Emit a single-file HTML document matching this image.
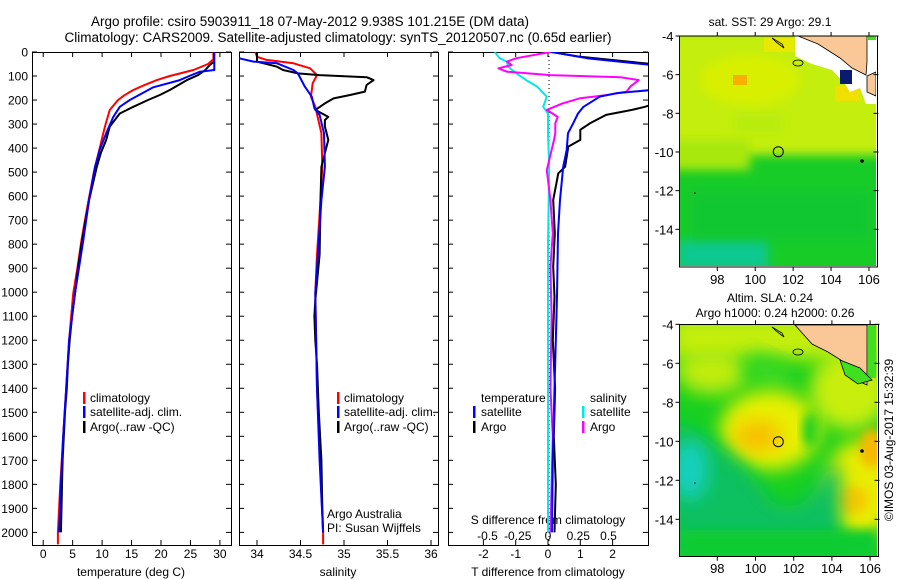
<!DOCTYPE html>
<html><head><meta charset="utf-8">
<style>
html,body{margin:0;padding:0;background:#fff;}
svg{display:block;font-family:"Liberation Sans",sans-serif;}
text{fill:#000;}
</style></head>
<body>
<svg id="s" width="900" height="580" viewBox="0 0 900 580" xmlns="http://www.w3.org/2000/svg">
<defs>
<clipPath id="c1"><rect x="32" y="52" width="199" height="493"/></clipPath>
<clipPath id="c2"><rect x="239" y="52" width="199" height="493"/></clipPath>
<clipPath id="c3"><rect x="448" y="52" width="200" height="493"/></clipPath>
<clipPath id="cm1"><rect x="680" y="36" width="196" height="230"/></clipPath>
<clipPath id="cm2"><rect x="680" y="325" width="197" height="231"/></clipPath>
<filter id="bl" x="-30%" y="-30%" width="160%" height="160%"><feGaussianBlur stdDeviation="9"/></filter>
<filter id="bl2" x="-30%" y="-30%" width="160%" height="160%"><feGaussianBlur stdDeviation="5"/></filter>
</defs>
<text x="310" y="26" font-size="13.5" text-anchor="middle">Argo profile: csiro 5903911_18 07-May-2012 9.938S 101.215E (DM data)</text>
<text x="338" y="42" font-size="13.5" text-anchor="middle">Climatology: CARS2009. Satellite-adjusted climatology: synTS_20120507.nc (0.65d earlier)</text>
<g id="g1"></g>
<g id="g2"></g>
<g id="g3"></g>

<!-- top map -->
<g>
<g clip-path="url(#cm1)">
<rect x="680" y="36" width="196" height="230" fill="#18cc28"/>
<rect x="670" y="30" width="220" height="125" fill="#c4ee08" filter="url(#bl2)"/>
<rect x="670" y="140" width="80" height="30" fill="#a8e810" filter="url(#bl2)"/>
<ellipse cx="750" cy="80" rx="50" ry="25" fill="#d8f000" filter="url(#bl2)"/>
<rect x="735" y="114" width="48" height="20" fill="#b8ec10" filter="url(#bl2)"/>
<rect x="678" y="240" width="90" height="30" fill="#10c890" filter="url(#bl2)"/>
<rect x="690" y="190" width="180" height="50" fill="#10c438" opacity="0.6" filter="url(#bl2)"/>
<rect x="733" y="75" width="14" height="10" fill="#f8b000"/>
<rect x="764" y="38" width="30" height="14" fill="#e8e800"/>
<rect x="835" y="86" width="25" height="15" fill="#f0e000"/>
<path d="M795 36 L876 36 L876 104 L866 104 L860 88 L850 92 L845 84 L832 70 L812 64 L795 56 Z" fill="#fff"/>
<path d="M798 36 L867 36 L867 62 L866 75 L852 68 L840 58 L818 44 Z" fill="#f9c896" stroke="#000" stroke-width="0.8"/>
<path d="M867 76 L876 72 L876 96 L867 92 Z" fill="#f9c896" stroke="#000" stroke-width="0.8"/>
<rect x="840" y="70" width="12" height="14" fill="#0a1a6e"/>
<rect x="868" y="36" width="8" height="4" fill="#40e020"/>
<path d="M772 38 L782 44 L784 48 L776 42 Z" fill="none" stroke="#000" stroke-width="0.8"/>
<ellipse cx="798" cy="63" rx="5" ry="3" fill="none" stroke="#000" stroke-width="0.8"/>
<circle cx="862" cy="161" r="1.8" fill="#000"/>
<circle cx="695" cy="193" r="0.8" fill="#000"/>
</g>
<rect x="679.5" y="36" width="198" height="231" fill="none" stroke="#000" stroke-width="1"/>
<circle cx="778.3" cy="151.7" r="5" fill="none" stroke="#000" stroke-width="1"/>
<g id="m1ticks"></g>
<text x="770" y="26" font-size="12" text-anchor="middle">sat. SST: 29 Argo: 29.1</text>
</g>

<!-- bottom map -->
<g>
<g clip-path="url(#cm2)">
<rect x="680" y="325" width="197" height="231" fill="#18d020"/>
<rect x="670" y="315" width="220" height="45" fill="#c4ee08" filter="url(#bl)"/>
<ellipse cx="850" cy="390" rx="40" ry="40" fill="#c8ee08" filter="url(#bl)"/>
<ellipse cx="712" cy="372" rx="36" ry="22" fill="#c0ec10" filter="url(#bl)"/>
<ellipse cx="768" cy="372" rx="28" ry="16" fill="#38d820" filter="url(#bl)" transform="rotate(25 768 372)"/>
<ellipse cx="770" cy="430" rx="50" ry="40" fill="#e8f000" filter="url(#bl)"/>
<ellipse cx="758" cy="436" rx="24" ry="16" fill="#f8c000" filter="url(#bl)"/>
<ellipse cx="860" cy="490" rx="36" ry="50" fill="#e8ec00" filter="url(#bl)"/>
<ellipse cx="872" cy="448" rx="12" ry="20" fill="#f8b800" filter="url(#bl2)"/>
<ellipse cx="852" cy="500" rx="16" ry="14" fill="#f8c800" filter="url(#bl2)"/>
<ellipse cx="810" cy="430" rx="8" ry="18" fill="#28d020" filter="url(#bl2)"/>
<path d="M670 420 Q740 450 770 500 Q800 520 820 480 Q830 460 840 470 L840 560 L670 560 Z" fill="#10c060" filter="url(#bl)"/>
<ellipse cx="690" cy="470" rx="18" ry="30" fill="#18d0c0" filter="url(#bl)"/>
<rect x="680" y="530" width="197" height="30" fill="#10cc30" filter="url(#bl2)"/>
<path d="M795 325 L867 325 L867 385 L856 380 L844 362 L828 352 L812 344 Z" fill="#f9c896" stroke="#000" stroke-width="0.8"/>
<path d="M868 325 L876 325 L876 378 L868 378 Z" fill="#40e020"/>
<path d="M840 360 L860 368 L872 380 L858 384 L845 375 Z" fill="#40e020" stroke="#000" stroke-width="0.8"/>
<path d="M772 327 L782 333 L784 337 L776 331 Z" fill="none" stroke="#000" stroke-width="0.8"/>
<ellipse cx="798" cy="352" rx="5" ry="3" fill="none" stroke="#000" stroke-width="0.8"/>
<circle cx="862" cy="451" r="1.8" fill="#000"/>
<circle cx="695" cy="483" r="0.8" fill="#000"/>
</g>
<rect x="679.5" y="324.5" width="199" height="232" fill="none" stroke="#000" stroke-width="1"/>
<circle cx="778.3" cy="441.7" r="5" fill="none" stroke="#000" stroke-width="1"/>
<g id="m2ticks"></g>
<text x="770" y="302" font-size="12" text-anchor="middle">Altim. SLA: 0.24</text>
<text x="775" y="317" font-size="12" text-anchor="middle">Argo h1000: 0.24 h2000: 0.26</text>
</g>
<text transform="translate(893 440) rotate(-90)" font-size="12" text-anchor="middle">©IMOS 03-Aug-2017 15:32:39</text>
</svg>
<script>
// ---- data ----
const depthTicks=[0,100,200,300,400,500,600,700,800,900,1000,1100,1200,1300,1400,1500,1600,1700,1800,1900,2000];
const tempTicks=[0,5,10,15,20,25,30];
const salTicks=[34,34.5,35,35.5,36];
const tdiffTicks=[-2,-1,0,1,2];
const sdiffTicks=[-0.5,-0.25,0,0.25,0.5];
const sdiffTickLabels=["-0.5","-0.25","0","0.25","0.5"];

const climTempDepth=[0,30,50,75,100,117,140,158,180,200,241,300,338,400,450,500,616,700,783,900,1005,1200,1400,1600,1800,2000,2050];
const climTemp=[28.9,28.9,28.0,25.5,21.5,19.3,17,15.3,13.8,12.7,11.3,10.6,10.2,9.6,9.1,8.6,7.7,7.1,6.5,5.8,5.1,4.4,3.9,3.4,2.9,2.5,2.5];
const satTempDepth=[0,75,82,100,117,147,200,228,270,338,408,478,616,783,1005,1200,1400,1600,1800,2000];
const satTemp=[29.05,29.05,26.6,24.8,23.2,18.7,14.7,13.0,11.9,10.7,9.6,8.8,7.8,6.8,5.4,4.4,3.9,3.4,3.0,2.7];
const argoTempDepth=[0,40,54,75,96,117,158,179,200,228,256,310,366,420,478,616,700,800,900,1005,1100,1200,1300,1400,1500,1600,1700,1800,1900,2000];
const argoTemp=[29,29,28.3,27.5,26.3,24.4,21.5,19.8,17.8,15.3,13,11.3,10.7,9.8,9.1,7.8,7.2,6.5,5.9,5.4,4.9,4.5,4.2,4.0,3.7,3.5,3.3,3.2,3.1,3.0];

const climSalDepth=[0,20,33,47,68,96,130,186,228,338,478,616,844,1005,1400,2000,2050];
const climSal=[33.98,34.0,34.11,34.42,34.61,34.69,34.64,34.62,34.67,34.74,34.75,34.73,34.69,34.67,34.69,34.76,34.76];
const satSalDepth=[0,25,40,47,75,89,117,144,186,234,262,338,478,616,844,1005,1400,1700,2000];
const satSal=[33.78,33.78,33.96,34.23,34.42,34.47,34.51,34.55,34.63,34.66,34.72,34.77,34.78,34.74,34.70,34.67,34.69,34.72,34.76];
const argoSalDepth=[0,40,50,61,75,89,96,105,117,137,165,179,193,214,241,270,283,310,366,478,616,844,1033,1100,1200,1300,1500,1700,1900,2000];
const argoSal=[34.0,34.0,34.11,34.23,34.3,34.47,34.72,35.26,35.34,35.26,35.24,35.07,34.88,34.78,34.67,34.82,34.78,34.78,34.82,34.74,34.73,34.72,34.67,34.66,34.67,34.69,34.71,34.74,34.75,34.76];

const satTdiffDepth=[0,26,54,150,158,172,186,228,256,297,338,408,478,616,755,1019,1400,1700,2000];
const satTdiff=[0.11,1.2,3.2,3.2,3.2,2.1,1.6,1.1,0.93,0.78,0.62,0.58,0.47,0.37,0.31,0.28,0.2,0.15,0.12];
const argoTdiffDepth=[0,20,50,220,228,241,262,297,324,366,394,478,505,616,755,894,1019,1200,1400,1600,1800,2000];
const argoTdiff=[0.11,1.0,3.2,3.2,3.0,2.6,1.8,1.3,1.0,1.0,0.63,0.53,0.32,0.16,0.21,0.16,0.2,0.15,0.22,0.18,0.24,0.2];
const satSdiffDepth=[0,26,40,61,89,117,144,186,228,256,338,478,800,1200,1600,2000];
const satSdiff=[-0.44,-0.40,-0.34,-0.33,-0.26,-0.18,-0.09,-0.01,-0.04,0,0,0.01,0.0,0.0,0.0,0.0];
const argoSdiffDepth=[0,26,40,54,68,82,96,105,117,144,165,179,193,214,241,270,297,338,366,492,616,755,894,1100,1400,1600,1800,2000];
const argoSdiff=[0.02,-0.26,-0.34,-0.30,-0.41,-0.34,0.02,0.6,0.75,0.68,0.65,0.49,0.26,0.12,-0.01,0.08,0.06,0.06,0.05,-0.01,0.02,0.04,0.02,0.03,0.02,0.04,0.03,0.02];

const latTicks=[-4,-6,-8,-10,-12,-14];
const lonTicks=[98,100,102,104,106];

// ---- axes ----
const NS="http://www.w3.org/2000/svg";
function mk(tag,attrs,parent){const e=document.createElementNS(NS,tag);for(const k in attrs)e.setAttribute(k,attrs[k]);parent.appendChild(e);return e;}
const Y0=52,Y1=545;
function yD(d){return 52+d*0.2402;}
function xT(t){return 43.2+t*5.89;}
function xS(s){return 257+(s-34)*87;}
function xTd(v){return 548+v*32.3;}
function xSd(v){return 548+v*121;}

function frame(g,x0,x1,xt,xf,labelsBottom,lab,yLabels){
  const r=mk('rect',{x:x0+0.5,y:Y0+0.5,width:x1-x0,height:Y1-Y0,fill:'none',stroke:'#000','stroke-width':1},g);
  
  
  depthTicks.forEach(d=>{
    const y=yD(d);
    mk('line',{x1:x0,y1:y,x2:x0+5,y2:y,stroke:'#000'},g);
    mk('line',{x1:x1-5,y1:y,x2:x1,y2:y,stroke:'#000'},g);
    if(yLabels){
      const t=mk('text',{x:x0-4,y:y+4.5,'font-size':12,'text-anchor':'end'},g);
      t.textContent=d;
      
      
    }
  });
  xt.forEach(v=>{
    const x=xf(v);
    mk('line',{x1:x,y1:Y0,x2:x,y2:Y0+5,stroke:'#000'},g);
    mk('line',{x1:x,y1:Y1-5,x2:x,y2:Y1,stroke:'#000'},g);
  });
}
function tickLabels(g,vals,labels,xf,y){
  vals.forEach((v,i)=>{
    const t=mk('text',{x:xf(v),y:y,'font-size':12,'text-anchor':'middle'},g);
    t.textContent=labels?labels[i]:String(v);
    
    
  });
}
function line(g,clip,ds,vs,xf,color,w,name){
  const pts=ds.map((d,i)=>xf(vs[i]).toFixed(1)+','+yD(d).toFixed(1)).join(' ');
  const p=mk('polyline',{points:pts,fill:'none',stroke:color,'stroke-width':w,'clip-path':'url(#'+clip+')','stroke-linejoin':'round'},g);
  
  
}
function txt(g,x,y,s,name,anchor){
  const t=mk('text',{x:x,y:y,'font-size':12,'text-anchor':anchor||'start'},g);
  t.textContent=s;
  
  
}
function bar(g,x,y,c){
  const r=mk('rect',{x:x,y:y-10,width:2.5,height:12,fill:c},g);
  
  
}

const g1=document.getElementById('g1'),g2=document.getElementById('g2'),g3=document.getElementById('g3');
frame(g1,32,231,tempTicks,xT,true,'',true);
tickLabels(g1,tempTicks,null,xT,558);
txt(g1,131,576,'temperature (deg C)','x-axis-title-temperature','middle');
line(g1,'c1',climTempDepth,climTemp,xT,'#f00',2,'climatology-temperature-line');
line(g1,'c1',argoTempDepth,argoTemp,xT,'#000',2,'argo-temperature-line');
line(g1,'c1',satTempDepth,satTemp,xT,'#00f',2,'satellite-temperature-line');
bar(g1,83,402,'#f00');txt(g1,90,402,'climatology','legend-climatology');
bar(g1,83,416,'#00f');txt(g1,90,416,'satellite-adj. clim.','legend-satellite');
bar(g1,83,431,'#000');txt(g1,90,431,'Argo(..raw -QC)','legend-argo');

frame(g2,239,438,salTicks,xS,true,'',false);
tickLabels(g2,salTicks,null,xS,558);
txt(g2,338,576,'salinity','x-axis-title-salinity','middle');
line(g2,'c2',climSalDepth,climSal,xS,'#f00',2,'climatology-salinity-line');
line(g2,'c2',argoSalDepth,argoSal,xS,'#000',2,'argo-salinity-line');
line(g2,'c2',satSalDepth,satSal,xS,'#00f',2,'satellite-salinity-line');
bar(g2,337,402,'#f00');txt(g2,344,402,'climatology','legend-climatology-sal');
bar(g2,337,416,'#00f');txt(g2,344,416,'satellite-adj. clim.','legend-satellite-sal');
bar(g2,337,431,'#000');txt(g2,344,431,'Argo(..raw -QC)','legend-argo-sal');
txt(g2,327,518,'Argo Australia','credit-argo-australia');
txt(g2,327,532,'PI: Susan Wijffels','credit-pi');

frame(g3,448,648,tdiffTicks,xTd,true,'',false);
tickLabels(g3,tdiffTicks,null,xTd,558);
tickLabels(g3,sdiffTicks,sdiffTickLabels,xSd,540);
txt(g3,548,524,'S difference from climatology','x-axis-title-sdiff','middle');
txt(g3,548,576,'T difference from climatology','x-axis-title-tdiff','middle');
const zl=mk('line',{x1:549,y1:Y0,x2:549,y2:Y1,stroke:'#000','stroke-width':1,'stroke-dasharray':'1,3'},g3);


line(g3,'c3',satSdiffDepth,satSdiff,xSd,'#00e8e8',2,'satellite-salinity-diff-line');
line(g3,'c3',argoSdiffDepth,argoSdiff,xSd,'#f0f',2,'argo-salinity-diff-line');
line(g3,'c3',argoTdiffDepth,argoTdiff,xTd,'#000',2,'argo-temperature-diff-line');
line(g3,'c3',satTdiffDepth,satTdiff,xTd,'#00f',2,'satellite-temperature-diff-line');
txt(g3,481,402,'temperature','legend-temperature-header');
bar(g3,473,416,'#00f');txt(g3,481,416,'satellite','legend-t-satellite');
bar(g3,473,431,'#000');txt(g3,481,431,'Argo','legend-t-argo');
txt(g3,590,402,'salinity','legend-salinity-header');
bar(g3,582,416,'#00e8e8');txt(g3,590,416,'satellite','legend-s-satellite');
bar(g3,582,431,'#f0f');txt(g3,590,431,'Argo','legend-s-argo');

// map ticks
function mapTicks(gid,x0,x1,y0,y1,latTop,latScale,lonScale,labY){
  const g=document.getElementById(gid);
  latTicks.forEach(l=>{
    const y=y0+(latTop-l)*latScale;
    mk('line',{x1:x0-4,y1:y,x2:x0,y2:y,stroke:'#000'},g);
    mk('line',{x1:x1-4,y1:y,x2:x1+1,y2:y,stroke:'#000'},g);
    const t=mk('text',{x:x0-6,y:y+5,'font-size':13,'text-anchor':'end'},g);
    t.textContent=String(l).replace('-','-');
    
    
  });
  lonTicks.forEach(L=>{
    const x=717.3+(L-98)*lonScale;
    mk('line',{x1:x,y1:y0-4,x2:x,y2:y0,stroke:'#000'},g);
    mk('line',{x1:x,y1:y1,x2:x,y2:y1+4,stroke:'#000'},g);
    const t=mk('text',{x:x,y:labY,'font-size':13,'text-anchor':'middle'},g);
    t.textContent=L;
    
    
  });
}
mapTicks('m1ticks',679.5,877.5,36,267,-4,19.33,18.96,284);
mapTicks('m2ticks',679.5,878.5,324.3,556.7,-4,19.5,19.1,573);
</script>
</body></html>
